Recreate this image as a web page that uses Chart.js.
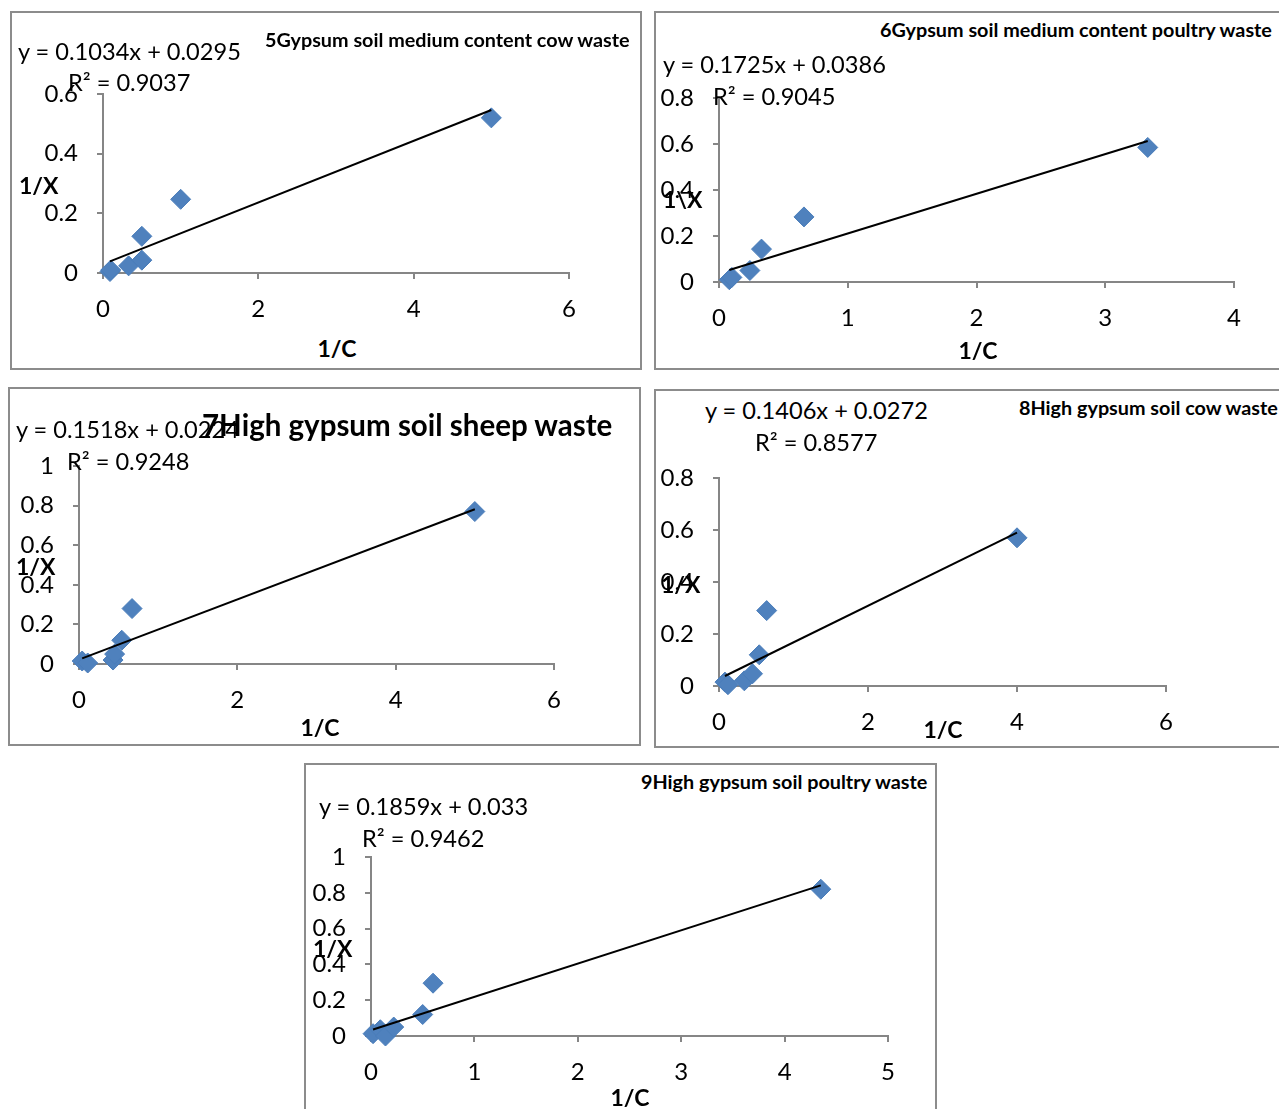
<!DOCTYPE html>
<html>
<head>
<meta charset="utf-8">
<script src="https://cdn.jsdelivr.net/npm/chart.js@4.4.1/dist/chart.umd.min.js"></script>
<style>
  body { margin: 0; width: 1279px; height: 1109px; overflow: hidden; background: #fff; font-family: Lato, sans-serif; position: relative; }
  .panel { position: absolute; border: 2px solid #8c8c8c; box-sizing: border-box; background: #fff; }
  .lbl { position: absolute; white-space: nowrap; line-height: 1; transform: translateY(-50%); color: #000; }
  .eq { font-size: 23.6px; }
  .ttl { font-size: 19.8px; font-weight: bold; }
  .ttl.big { font-size: 29.5px; }
  .axt { font-size: 23px; font-weight: bold; }
  canvas { position: absolute; }
</style>
</head>
<body>
<script>
// 5 Gypsum soil medium content, cow waste
const c5X = [0.09, 0.1, 0.33, 0.5, 0.5, 1, 5];
const c5Y = [0.005, 0.01, 0.024, 0.043, 0.123, 0.247, 0.52];
const c5Fit = [0.1034, 0.0295];

// 6 Gypsum soil medium content, poultry waste
const c6X = [0.08, 0.1, 0.24, 0.33, 0.66, 3.33];
const c6Y = [0.01, 0.02, 0.05, 0.143, 0.283, 0.585];
const c6Fit = [0.1725, 0.0386];

// 7 High gypsum soil, sheep waste
const c7X = [0.04, 0.11, 0.43, 0.45, 0.54, 0.67, 5];
const c7Y = [0.015, 0.005, 0.02, 0.05, 0.12, 0.28, 0.77];
const c7Fit = [0.1518, 0.0224];

// 8 High gypsum soil, cow waste
const c8X = [0.08, 0.12, 0.34, 0.45, 0.54, 0.64, 4];
const c8Y = [0.015, 0.005, 0.02, 0.047, 0.12, 0.29, 0.57];
const c8Fit = [0.1406, 0.0272];

// 9 High gypsum soil, poultry waste
const c9X = [0.02, 0.09, 0.14, 0.22, 0.5, 0.6, 4.35];
const c9Y = [0.013, 0.035, 0.0, 0.05, 0.12, 0.295, 0.82];
const c9Fit = [0.1859, 0.033];

const AXIS = '#868686';
const MARK = '#4f81bd';

function addPanel(left, top, width, height) {
  const d = document.createElement('div');
  d.className = 'panel';
  Object.assign(d.style, { left: left + 'px', top: top + 'px', width: width + 'px', height: height + 'px' });
  document.body.appendChild(d);
}

function addText(cls, text, x, y, centered) {
  const d = document.createElement('div');
  d.className = 'lbl ' + cls;
  d.textContent = text;
  d.style.left = x + 'px';
  d.style.top = y + 'px';
  if (centered) d.style.transform = 'translate(-50%, -50%)';
  document.body.appendChild(d);
}

// plot = page coords of the plot area (x0 at x=0, x1 at xMax, yTop at yMax, yBot at 0)
function addChart(plot, xs, ys, fit, xMax, xStep, yMax) {
  // T has to beat the y scale's own top padding (half a label + tick padding)
  const L = 80, T = 45, R = 30, B = 60;
  const w = plot.x1 - plot.x0 + L + R;
  const h = plot.yBot - plot.yTop + T + B;
  const cv = document.createElement('canvas');
  cv.width = w; cv.height = h;
  Object.assign(cv.style, { left: (plot.x0 - L) + 'px', top: (plot.yTop - T) + 'px', width: w + 'px', height: h + 'px' });
  document.body.appendChild(cv);

  const pts = xs.map((x, i) => ({ x, y: ys[i] }));
  const lo = Math.min(...xs), hi = Math.max(...xs);
  const line = [lo, hi].map(x => ({ x, y: fit[0] * x + fit[1] }));

  const tickFont = { family: 'Lato', size: 24 };
  const fmt = v => String(Number(v.toFixed(1)));

  new Chart(cv, {
    type: 'scatter',
    data: {
      datasets: [
        { data: line, showLine: true, borderColor: '#000', borderWidth: 2, pointRadius: 0, order: 0, clip: false },
        { data: pts, pointStyle: 'rectRot', pointRadius: 10, backgroundColor: MARK, borderColor: '#4a7dba', borderWidth: 1, order: 1, clip: false },
      ],
    },
    options: {
      responsive: false,
      animation: false,
      layout: { padding: { left: 0, top: T, right: R, bottom: 0 } },
      plugins: { legend: { display: false }, tooltip: { enabled: false } },
      scales: {
        x: {
          type: 'linear', min: 0, max: xMax,
          afterFit: s => { s.height = B; },
          ticks: { stepSize: xStep, font: tickFont, color: '#000', padding: 16, callback: fmt },
          grid: { drawOnChartArea: false, drawTicks: true, tickLength: 6, color: AXIS, lineWidth: 2 },
          border: { color: AXIS, width: 2 },
        },
        y: {
          type: 'linear', min: 0, max: yMax,
          afterFit: s => { s.width = L; },
          ticks: { stepSize: 0.2, font: tickFont, color: '#000', padding: 19, callback: fmt },
          grid: { drawOnChartArea: false, drawTicks: true, tickLength: 6, color: AXIS, lineWidth: 2 },
          border: { color: AXIS, width: 2 },
        },
      },
    },
  });
}

// panel 5
addPanel(10, 11, 632, 359);
addChart({ x0: 103, x1: 569, yTop: 94, yBot: 273 }, c5X, c5Y, c5Fit, 6, 2, 0.6);
addText('eq', 'y = 0.1034x + 0.0295', 18, 52);
addText('eq', 'R² = 0.9037', 68, 83);
addText('ttl', '5Gypsum soil medium content cow waste', 265, 40);
addText('axt', '1/X', 19, 185);
addText('axt', '1/C', 337, 348, true);

// panel 6
addPanel(654, 11, 640, 359);
addChart({ x0: 719, x1: 1234, yTop: 98, yBot: 282 }, c6X, c6Y, c6Fit, 4, 1, 0.8);
addText('eq', 'y = 0.1725x + 0.0386', 663, 65);
addText('eq', 'R² = 0.9045', 713, 97);
addText('ttl', '6Gypsum soil medium content poultry waste', 880, 30);
addText('axt', '1\\X', 663, 199);
addText('axt', '1/C', 978, 350, true);

// panel 7
addPanel(8, 387, 633, 359);
addChart({ x0: 79, x1: 554, yTop: 466, yBot: 664 }, c7X, c7Y, c7Fit, 6, 2, 1);
addText('eq', 'y = 0.1518x + 0.0224', 16, 430);
addText('eq', 'R² = 0.9248', 67, 462);
addText('ttl big', '7High gypsum soil sheep waste', 202, 425);
addText('axt', '1/X', 16, 566);
addText('axt', '1/C', 320, 727, true);

// panel 8
addPanel(654, 389, 640, 359);
addChart({ x0: 719, x1: 1166, yTop: 478, yBot: 686 }, c8X, c8Y, c8Fit, 6, 2, 0.8);
addText('eq', 'y = 0.1406x + 0.0272', 705, 411);
addText('eq', 'R² = 0.8577', 755, 443);
addText('ttl', '8High gypsum soil cow waste', 1019, 408);
addText('axt', '1/X', 661, 584);
addText('axt', '1/C', 943, 729, true);

// panel 9
addPanel(304, 763, 633, 360);
addChart({ x0: 371, x1: 888, yTop: 857, yBot: 1036 }, c9X, c9Y, c9Fit, 5, 1, 1);
addText('eq', 'y = 0.1859x + 0.033', 319, 807);
addText('eq', 'R² = 0.9462', 362, 839);
addText('ttl', '9High gypsum soil poultry waste', 641, 782);
addText('axt', '1/X', 313, 948);
addText('axt', '1/C', 630, 1097, true);
</script>
</body>
</html>
